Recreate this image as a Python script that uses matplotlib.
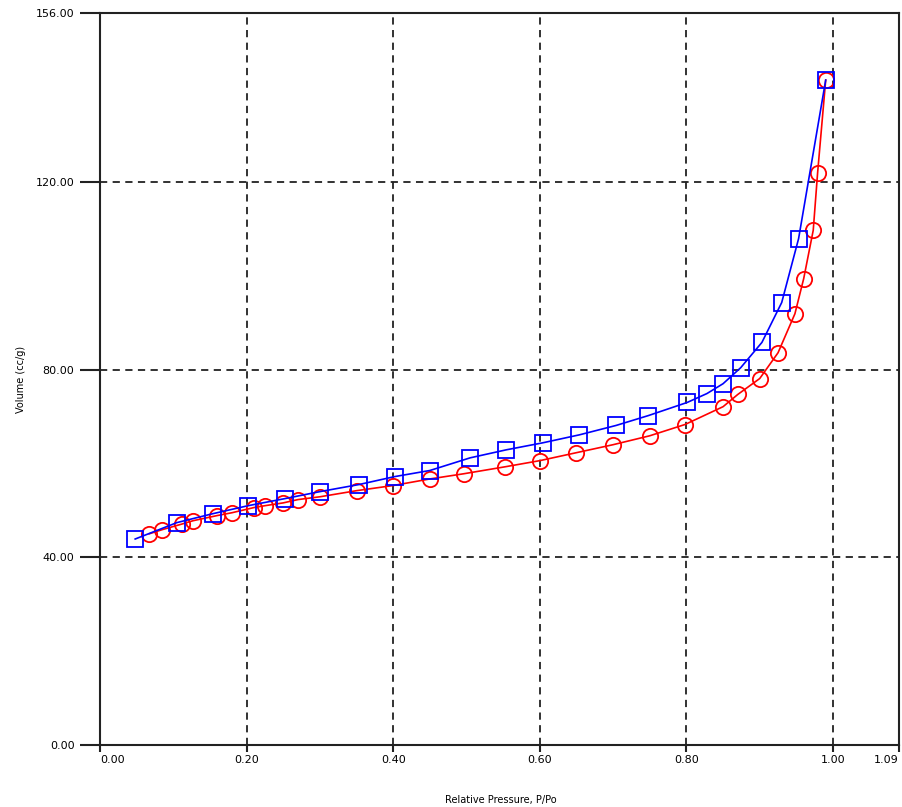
import matplotlib
matplotlib.use("Agg")
import matplotlib.pyplot as plt

# Desorption (blue squares)
des_x = [0.048, 0.105, 0.154, 0.202, 0.252, 0.300, 0.353, 0.402, 0.450, 0.505, 0.554,
         0.604, 0.654, 0.704, 0.748, 0.801, 0.828, 0.850, 0.874, 0.903, 0.930, 0.953, 0.990]
des_y = [43.9, 47.4, 49.3, 51.0, 52.5, 54.0, 55.5, 57.2, 58.5, 61.2, 62.9,
         64.4, 66.1, 68.1, 70.2, 73.0, 74.9, 77.0, 80.4, 85.8, 94.3, 107.9, 141.7]

# Adsorption (red circles)
ads_x = [0.067, 0.085, 0.112, 0.127, 0.160, 0.180, 0.210, 0.225, 0.250, 0.270, 0.300,
         0.350, 0.400, 0.450, 0.496, 0.553, 0.600, 0.650, 0.700, 0.750, 0.798, 0.850,
         0.870, 0.900, 0.925, 0.948, 0.960, 0.973, 0.979, 0.990]
ads_y = [45.0, 45.9, 47.1, 47.8, 48.9, 49.5, 50.6, 51.0, 51.6, 52.3, 52.9,
         54.2, 55.3, 56.7, 57.8, 59.3, 60.6, 62.3, 64.0, 65.9, 68.3, 72.1,
         74.7, 78.1, 83.6, 91.9, 99.4, 109.7, 122.0, 141.7]

x_ticks = [0.0, 0.2, 0.4, 0.6, 0.8, 1.0, 1.09]
x_labels = ["0.00", "0.20", "0.40", "0.60", "0.80", "1.00", "1.09"]
y_ticks = [0, 40, 80, 120, 156]
y_labels = ["0.00", "40.00", "80.00", "120.00", "156.00"]

fig = plt.figure(figsize=(9.03, 8.07), dpi=100)
ax = fig.add_axes([100/903, 62/807, 799/903, 732/807])

ax.plot(ads_x, ads_y, color="#ff0000", lw=1.2, marker="o", ms=11,
        mfc="none", mec="#ff0000", mew=1.3, zorder=3)
ax.plot(des_x, des_y, color="#0000ff", lw=1.2, marker="s", ms=11.5,
        mfc="none", mec="#0000ff", mew=1.3, zorder=4)

ax.set_xlim(0, 1.09)
ax.set_ylim(0, 156)

for y in [40, 80, 120]:
    ax.axhline(y, color="#222222", lw=1.3, ls=(0, (4, 3)), zorder=1)
for x in [0.2, 0.4, 0.6, 0.8, 1.0]:
    ax.axvline(x, color="#222222", lw=1.3, ls=(0, (4, 3)), zorder=1)

ax.set_xticks(x_ticks)
ax.set_xticklabels(x_labels, fontsize=8)
ax.set_yticks(y_ticks)
ax.set_yticklabels(y_labels, fontsize=8)
lbls = ax.get_xticklabels()
lbls[0].set_ha("left")
lbls[-1].set_ha("right")

ax.tick_params(axis="y", direction="out", length=14.4, width=1.5, pad=4, color="#222222")
ax.tick_params(axis="x", direction="out", length=5, width=1.5, pad=2.5, color="#222222")
for s in ax.spines.values():
    s.set_linewidth(1.5)
    s.set_color("#222222")

fig.text(501/903, 1 - 800/807, "Relative Pressure, P/Po", ha="center", va="center", fontsize=7)
fig.text(21/903, 1 - 379/807, "Volume (cc/g)", ha="center", va="center", rotation=90, fontsize=7)

fig.savefig("out.png", dpi=100)
